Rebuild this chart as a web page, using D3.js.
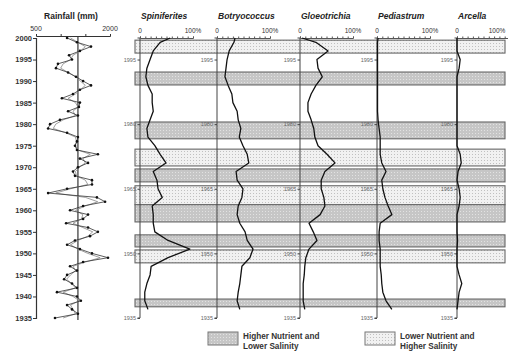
<!DOCTYPE html>
<html><head><meta charset="utf-8">
<script src="https://cdn.jsdelivr.net/npm/d3@7"></script>
<style>html,body{margin:0;padding:0;background:#fff;}svg{display:block;}</style>
</head><body>
<svg id="chart" width="508" height="351"></svg>
<script>
// ---------- DATA ----------
const rainYears = d3.range(2000, 1934, -1);
const rainfallA = [1130,1330,1615,1390,1170,1230,945,905,1150,1310,1455,1615,1390,1250,1025,1390,1370,1150,1350,985,
  785,745,1130,1350,1330,1290,1330,1755,1390,1555,1350,1250,1290,1635,1635,1130,745,1735,1900,1455,
  1190,1555,1455,1110,1555,1755,1595,1290,1130,1390,1635,1960,1455,1190,1330,1130,1070,1230,1330,925,
  1330,1410,1130,1230,1350,885];
const rainfallB = [1200,1350,1500,1400,1250,1200,1050,1000,1150,1300,1400,1500,1400,1300,1150,1300,1350,1250,1300,1050,
  900,850,1100,1300,1320,1300,1350,1600,1450,1500,1380,1300,1320,1500,1550,1200,900,1500,1750,1500,
  1300,1450,1420,1250,1450,1650,1550,1350,1200,1350,1550,1800,1500,1250,1300,1200,1120,1220,1300,1050,
  1250,1380,1200,1250,1300,1050];
const rainMean = 1350;
const rainYearTicks = [2000,1995,1990,1985,1980,1975,1970,1965,1960,1955,1950,1945,1940,1935];
const rainXTicks = [500,1000,1500,2000];
const rainXLabels = [500,2000];

const taxa = ["Spiniferites","Botryococcus","Gloeotrichia","Pediastrum","Arcella"];
const sampleYears = [2000,1999,1997,1995,1993,1991,1989,1987,1985,1983,1981,1979,1977,1975,1973,1971,1969,1967,
  1965,1963,1961,1959,1957,1955,1953,1951,1949,1947,1945,1943,1941,1939,1937];
const spiniferites = [57,38,25,19,13,11,15,23,23,25,19,13,15,28,38,49,25,32,34,42,23,25,25,28,53,94,53,21,19,13,9,9,15];
const botryococcus = [34,32,23,19,17,15,21,28,30,38,40,45,42,49,57,60,36,38,49,47,40,38,43,53,57,68,62,47,45,43,40,38,43];
const gloeotrichia = [4,30,53,32,34,42,30,21,15,15,21,26,28,34,51,66,47,40,40,45,47,38,17,25,32,17,11,9,8,6,6,6,9];
const pediastrum  = [2,1,1,1,1,1,1,1,1,1,2,4,6,6,6,9,17,9,11,15,21,28,6,4,4,6,6,6,8,9,11,17,28];
const arcella     = [0,0,0,6,4,0,0,0,0,0,0,0,0,0,6,8,2,0,4,6,4,0,0,0,1,0,0,0,4,9,4,2,0];
const taxaValues = [spiniferites, botryococcus, gloeotrichia, pediastrum, arcella];
const panelYearTicks = [1995,1980,1965,1950,1935];
const pctTicks = [0,100];

const bandStart = [1999.5,1992.1,1980.5,1974.2,1969.6,1965.7,1961.3,1954.3,1950.8,1939.4];
const bandEnd   = [1996.5,1989.1,1976.6,1970.3,1966.6,1961.3,1957.3,1951.5,1947.8,1937.6];
const bandType  = ["low","high","high","low","high","low","high","high","low","high"];
const legendLabels = {high:["Higher Nutrient and","Lower Salinity"], low:["Lower Nutrient and","Higher Salinity"]};

// ---------- LAYOUT ----------
const svg = d3.select("#chart");
const FONT = "'Liberation Sans', Arial, sans-serif";
const W = 508;
const y = d3.scaleLinear().domain([2000,1935]).range([38,318]);
const xr = d3.scaleLinear().domain([500,2000]).range([36,110]);
const panelLeft = [140,217,300,377,457];
const panelW = 53;
const bandX0 = 135, bandX1 = 505;

// patterns
const defs = svg.append("defs");
const pHigh = defs.append("pattern").attr("id","pHigh").attr("width",3).attr("height",3).attr("patternUnits","userSpaceOnUse");
pHigh.append("rect").attr("width",3).attr("height",3).attr("fill","#c6c6c6");
pHigh.append("rect").attr("x",1).attr("y",1).attr("width",1).attr("height",1).attr("fill","#e2e2e2");
const pLow = defs.append("pattern").attr("id","pLow").attr("width",3).attr("height",3).attr("patternUnits","userSpaceOnUse");
pLow.append("rect").attr("width",3).attr("height",3).attr("fill","#f1f1f1");
pLow.append("rect").attr("x",1).attr("y",1).attr("width",1).attr("height",1).attr("fill","#c0c0c0");
const fillFor = t => t==="high" ? "url(#pHigh)" : "url(#pLow)";

// ---------- RAINFALL PANEL ----------
svg.append("text").attr("x",71).attr("y",19).attr("text-anchor","middle")
  .attr("font-family",FONT).attr("font-weight","bold").attr("font-size",8.5).attr("fill","#222").text("Rainfall (mm)");

const rainTop = d3.axisTop(xr).tickValues(rainXTicks).tickSize(2).tickFormat("");
svg.append("g").attr("transform","translate(0,36)").call(rainTop)
  .call(g=>g.select(".domain").attr("stroke","#333"))
  .call(g=>g.selectAll(".tick line").attr("stroke","#333"));
svg.selectAll(".rxl").data(rainXLabels).join("text").attr("class","rxl")
  .attr("x",d=>xr(d)).attr("y",31).attr("text-anchor","middle")
  .attr("font-family",FONT).attr("font-size",7).attr("fill","#333").text(d=>d);

const rainLeft = d3.axisLeft(y).tickValues(rainYearTicks).tickSize(3).tickFormat(d3.format("d"));
svg.append("g").attr("transform","translate(36,0)").call(rainLeft)
  .call(g=>g.select(".domain").attr("stroke","#333").attr("stroke-width",1.2))
  .call(g=>g.selectAll(".tick line").attr("stroke","#333"))
  .call(g=>g.selectAll(".tick text").attr("font-family",FONT).attr("font-weight","bold")
    .attr("font-size",7.5).attr("fill","#333").attr("x",-4));

svg.append("line").attr("x1",xr(rainMean)).attr("x2",xr(rainMean)).attr("y1",36).attr("y2",320)
  .attr("stroke","#333").attr("stroke-width",1.2);

const lineRain = d3.line().x(d=>xr(d[1])).y(d=>y(d[0]));
svg.append("path").datum(rainYears.map((yr,i)=>[yr,rainfallB[i]])).attr("d",lineRain)
  .attr("fill","none").attr("stroke","#888").attr("stroke-width",0.8);
svg.append("path").datum(rainYears.map((yr,i)=>[yr,rainfallA[i]])).attr("d",lineRain)
  .attr("fill","none").attr("stroke","#333").attr("stroke-width",0.8);
svg.selectAll(".rdot").data(rainYears.map((yr,i)=>[yr,rainfallA[i]])).join("circle").attr("class","rdot")
  .attr("cx",d=>xr(d[1])).attr("cy",d=>y(d[0])).attr("r",1.3).attr("fill","#111");

// ---------- BANDS ----------
svg.selectAll(".band").data(bandStart.map((s,i)=>({s,e:bandEnd[i],t:bandType[i]}))).join("rect").attr("class","band")
  .attr("x",bandX0).attr("width",bandX1-bandX0)
  .attr("y",d=>y(d.s)).attr("height",d=>y(d.e)-y(d.s))
  .attr("fill",d=>fillFor(d.t)).attr("stroke","#666").attr("stroke-width",1.1);

// ---------- TAXA PANELS ----------
taxa.forEach((name,i)=>{
  const x0 = panelLeft[i];
  const xs = d3.scaleLinear().domain([0,100]).range([x0,x0+panelW]);
  const g = svg.append("g");
  g.append("text").attr("x",x0+1).attr("y",19)
    .attr("font-family",FONT).attr("font-weight","bold").attr("font-style","italic")
    .attr("font-size",8.5).attr("fill","#222").text(name);
  // top axis
  g.append("g").attr("transform","translate(0,38)")
    .call(d3.axisTop(xs).tickValues(d3.range(0,101,10)).tickSize(1.5).tickFormat(""))
    .call(a=>a.select(".domain").attr("stroke","#555"))
    .call(a=>a.selectAll(".tick line").attr("stroke","#555"));
  g.selectAll(".pl").data(pctTicks).join("text").attr("class","pl")
    .attr("x",d=>Math.min(xs(d), W-11)).attr("y",33).attr("text-anchor","middle")
    .attr("font-family",FONT).attr("font-size",6.5).attr("fill","#333")
    .text(d=>d===0?"0":d+"%");
  // vertical year axis
  g.append("g").attr("transform",`translate(${x0},0)`)
    .call(d3.axisLeft(y).tickValues(panelYearTicks).tickSize(2.5).tickFormat(d3.format("d")))
    .call(a=>a.select(".domain").attr("stroke","#444").attr("stroke-width",1).attr("d",`M-2.5,${y(2000)}H0V${y(1935)}H-2.5`))
    .call(a=>a.selectAll(".tick line").attr("stroke","#444"))
    .call(a=>a.selectAll(".tick text").attr("font-family",FONT).attr("font-size",5.5).attr("fill","#666").attr("x",-4));
  // curve
  const line = d3.line().x(d=>xs(d[1])).y(d=>y(d[0]));
  g.append("path").datum(sampleYears.map((yr,k)=>[yr,taxaValues[i][k]])).attr("d",line)
    .attr("fill","none").attr("stroke","#111").attr("stroke-width",1.3).attr("stroke-linejoin","round");
});

// ---------- LEGEND ----------
const legend = [{t:"high",x:208},{t:"low",x:365}];
legend.forEach(l=>{
  svg.append("rect").attr("x",l.x).attr("y",332).attr("width",30).attr("height",13)
    .attr("fill",fillFor(l.t)).attr("stroke","#777").attr("stroke-width",1);
  svg.append("text").attr("x",l.x+35).attr("y",339)
    .attr("font-family",FONT).attr("font-weight","bold").attr("font-size",8.2).attr("fill","#333")
    .selectAll("tspan").data(legendLabels[l.t]).join("tspan")
    .attr("x",l.x+35).attr("dy",(d,k)=>k===0?0:9.5).text(d=>d);
});
</script>
</body></html>
